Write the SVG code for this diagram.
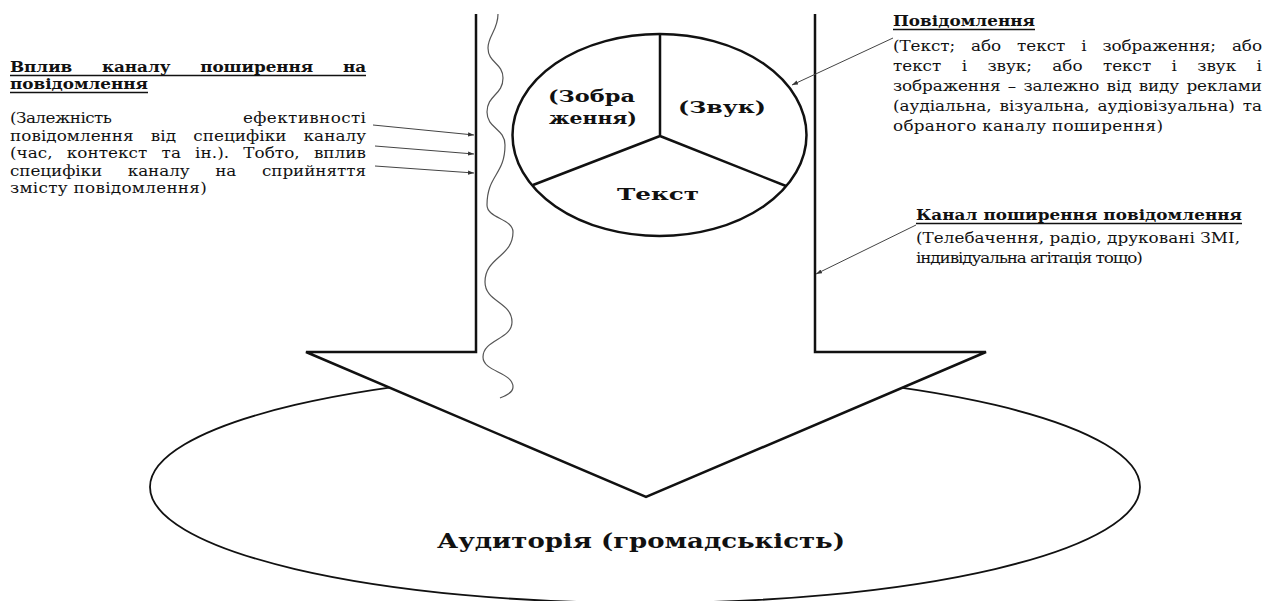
<svg xmlns="http://www.w3.org/2000/svg" width="1268" height="601" viewBox="0 0 1268 601">
<style>
.r{font-family:"DejaVu Serif","Liberation Serif",serif;font-size:14px;fill:#111}
.b{font-family:"DejaVu Serif","Liberation Serif",serif;font-size:14px;font-weight:bold;fill:#111}
.pb{font-family:"DejaVu Serif","Liberation Serif",serif;font-size:17px;font-weight:bold;fill:#111}
.ab{font-family:"DejaVu Serif","Liberation Serif",serif;font-size:20px;font-weight:bold;fill:#111}
.ul{stroke:#111;stroke-width:1.3}
.ptr{stroke:#444;stroke-width:1;fill:none}
</style>
<defs>
<marker id="ah" viewBox="0 0 10 10" refX="10" refY="5" markerWidth="6" markerHeight="6" orient="auto"><path d="M0,1.5 L10,5 L0,8.5 z" fill="#333"/></marker>
</defs>
<rect width="1268" height="601" fill="#fff"/>

<g id="audience">
<ellipse cx="645" cy="487" rx="495" ry="116" fill="#fff" stroke="#111" stroke-width="1.8"/>
<text class="ab" x="437" y="548" textLength="408" lengthAdjust="spacingAndGlyphs">Аудиторія (громадськість)</text>
</g>

<g id="channel-arrow">
<path d="M476,14 V352 H306 L646,497 L986,352 H815 V14" fill="#fff" stroke="#111" stroke-width="2.5" stroke-linejoin="miter"/>
</g>

<g id="message-pie">
<ellipse cx="659.5" cy="135" rx="147" ry="101" fill="#fff" stroke="#111" stroke-width="2.5"/>
<path d="M660,34 V136 M660,136 L533,185 M660,136 L786,186" fill="none" stroke="#111" stroke-width="2.5"/>
<text class="pb" x="548" y="102" textLength="87" lengthAdjust="spacingAndGlyphs">(Зобра</text>
<text class="pb" x="549" y="124" textLength="88" lengthAdjust="spacingAndGlyphs">ження)</text>
<text class="pb" x="678" y="113" textLength="88" lengthAdjust="spacingAndGlyphs">(Звук)</text>
<text class="pb" x="617" y="200" textLength="82" lengthAdjust="spacingAndGlyphs">Текст</text>
</g>

<g id="noise-wave">
<path d="M498,14 C498,30 488,36 488,48 C488,63 503,63 503,78 C503,95 487,95 487,112 C487,128.5 505,128.5 505,145 C505,175 487,175 487,205 C487,218.5 513,218.5 513,232 C513,257 485,257 485,282 C485,302 512,302 512,322 C512,339.5 483,339.5 483,357 C483,372 513,372 513,387 C513,393 505,396 500,398" fill="none" stroke="#555" stroke-width="1.2"/>
</g>

<g id="label-channel-influence">
<text class="b" transform="translate(10,72) scale(1.2,1)" textLength="296.7" lengthAdjust="spacing" style="word-spacing:20px">Вплив каналу поширення на</text>
<line class="ul" x1="10" y1="75.5" x2="366" y2="75.5"/>
<text class="b" transform="translate(10,89) scale(1.2,1)" textLength="115" lengthAdjust="spacing">повідомлення</text>
<line class="ul" x1="10" y1="92.5" x2="148" y2="92.5"/>
<text class="r" transform="translate(10,123) scale(1.2,1)" textLength="85" lengthAdjust="spacing">(Залежність</text>
<text class="r" transform="translate(243,123) scale(1.2,1)" textLength="102.5" lengthAdjust="spacing">ефективності</text>
<text class="r" transform="translate(10,141) scale(1.2,1)" textLength="296.7" lengthAdjust="spacing" style="word-spacing:9.8px">повідомлення від специфіки каналу</text>
<text class="r" transform="translate(10,158) scale(1.2,1)" textLength="296.7" lengthAdjust="spacing" style="word-spacing:7.3px">(час, контекст та ін.). Тобто, вплив</text>
<text class="r" transform="translate(10,176) scale(1.2,1)" textLength="296.7" lengthAdjust="spacing" style="word-spacing:17px">специфіки каналу на сприйняття</text>
<text class="r" transform="translate(10,193) scale(1.2,1)" textLength="164" lengthAdjust="spacing">змісту повідомлення)</text>
</g>

<g id="label-message">
<text class="b" transform="translate(893,26) scale(1.2,1)" textLength="118.3" lengthAdjust="spacing">Повідомлення</text>
<line class="ul" x1="893" y1="29.5" x2="1035" y2="29.5"/>
<text class="r" transform="translate(893,51) scale(1.2,1)" textLength="307.5" lengthAdjust="spacing" style="word-spacing:8.9px">(Текст; або текст і зображення; або</text>
<text class="r" transform="translate(893,71) scale(1.2,1)" textLength="307.5" lengthAdjust="spacing" style="word-spacing:12.6px">текст і звук; або текст і звук і</text>
<text class="r" transform="translate(893,91) scale(1.2,1)" textLength="307.5" lengthAdjust="spacing" style="word-spacing:1.7px">зображення – залежно від виду реклами</text>
<text class="r" transform="translate(893,111) scale(1.2,1)" textLength="307.5" lengthAdjust="spacing" style="word-spacing:2.2px">(аудіальна, візуальна, аудіовізуальна) та</text>
<text class="r" transform="translate(893,131) scale(1.2,1)" textLength="225" lengthAdjust="spacing">обраного каналу поширення)</text>
</g>

<g id="label-channel">
<text class="b" transform="translate(916,220) scale(1.2,1)" textLength="271.7" lengthAdjust="spacing">Канал поширення повідомлення</text>
<line class="ul" x1="916" y1="223.5" x2="1242" y2="223.5"/>
<text class="r" transform="translate(916,243) scale(1.2,1)" textLength="270" lengthAdjust="spacing">(Телебачення, радіо, друковані ЗМІ,</text>
<text class="r" transform="translate(916,263) scale(1.2,1)" textLength="189" lengthAdjust="spacing">індивідуальна агітація тощо)</text>
</g>

<g id="connectors">
<line class="ptr" x1="373" y1="125" x2="474" y2="135" marker-end="url(#ah)"/>
<line class="ptr" x1="375" y1="146" x2="474" y2="154" marker-end="url(#ah)"/>
<line class="ptr" x1="375" y1="166" x2="474" y2="173" marker-end="url(#ah)"/>
<line class="ptr" x1="893" y1="38" x2="792" y2="85" marker-end="url(#ah)"/>
<line class="ptr" x1="916" y1="225" x2="816" y2="274" marker-end="url(#ah)"/>
</g>
</svg>
